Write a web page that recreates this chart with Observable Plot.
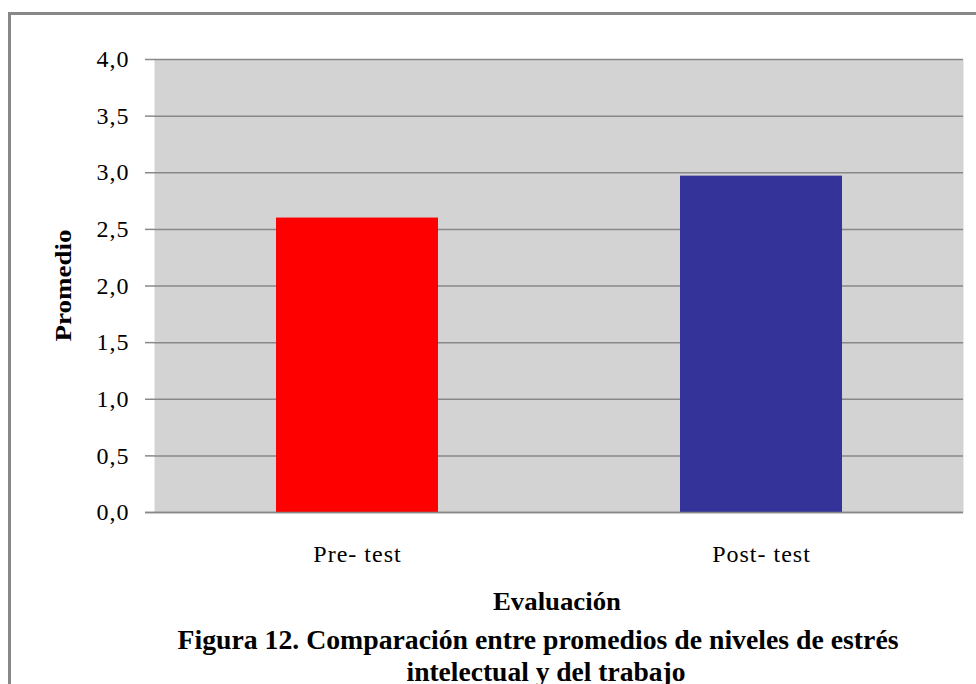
<!DOCTYPE html>
<html>
<head>
<meta charset="utf-8">
<script src="https://cdn.jsdelivr.net/npm/d3@7"></script>
<script src="https://cdn.jsdelivr.net/npm/@observablehq/plot@0.6"></script>
<style>
  html, body { margin: 0; padding: 0; background: #fff; }
  #chart { width: 976px; height: 684px; overflow: hidden; }
  #chart g[aria-label="y-axis tick label"] text,
  #chart g[aria-label="x-axis tick label"] text {
    font-family: 'Liberation Serif', 'Times New Roman', serif !important;
    font-size: 24px !important;
    letter-spacing: 1px;
    fill: #000;
  }
</style>
</head>
<body>
<div id="chart"></div>
<script>
const categories = ["Pre- test", "Post- test"];
const values = [2.6, 2.97];
const barColors = ["#ff0000", "#333399"];
const yTicks = [0, 0.5, 1, 1.5, 2, 2.5, 3, 3.5, 4];
const xTitle = "Evaluación";
const yTitle = "Promedio";
const captionLines = ["Figura 12. Comparación entre promedios de niveles de estrés", "intelectual y del trabajo"];

const data = categories.map((c, i) => ({cat: c, val: values[i], color: barColors[i]}));
const fmt = d => d.toFixed(1).replace(".", ",");

const W = 976, H = 684;
const mL = 154, mT = 59, mR = 13, mB = 172;

const plot = Plot.plot({
  width: W, height: H,
  marginLeft: mL, marginTop: mT, marginRight: mR, marginBottom: mB,
  style: {fontFamily: "'Liberation Serif', 'Times New Roman', serif", background: "transparent"},
  x: {domain: categories, paddingInner: 0.6, paddingOuter: 0.3, label: null},
  y: {domain: [0, 4], label: null},
  marks: [
    Plot.frame({fill: "#d3d3d3", stroke: null}),
    Plot.gridY(yTicks, {stroke: "#888", strokeOpacity: 1, strokeWidth: 1.5}),
    Plot.barY(data, {x: "cat", y: "val", fill: "color"}),
    Plot.ruleY([0], {stroke: "#888", strokeWidth: 1.5, insetLeft: -9}),
    Plot.ruleX([0], {frameAnchor: "left", stroke: "#888", strokeWidth: 1.5}),
    Plot.axisY(yTicks, {tickSize: 9, tickPadding: 16, stroke: "#888", strokeWidth: 1.5, tickFormat: fmt,
      fontSize: 24, fill: "#000"}),
    Plot.axisX({tickSize: 0, tickPadding: 32, fontSize: 24, fill: "#000"})
  ]
});

document.getElementById("chart").appendChild(plot);
const svg = d3.select(plot);

// outer frame
svg.insert("path", ":first-child")
  .attr("d", `M ${W + 5} 13.5 H 9.5 V ${H + 5}`)
  .attr("fill", "none").attr("stroke", "#888").attr("stroke-width", 3);

const cy = (mT + (H - mB)) / 2;

svg.append("text")
  .attr("x", 557).attr("y", 610)
  .attr("text-anchor", "middle")
  .attr("font-family", "'Liberation Serif', serif")
  .attr("font-weight", "bold").attr("font-size", 25)
  .attr("textLength", 128).attr("lengthAdjust", "spacingAndGlyphs")
  .text(xTitle);

svg.append("text")
  .attr("transform", `translate(71,${cy}) rotate(-90)`)
  .attr("text-anchor", "middle")
  .attr("font-family", "'Liberation Serif', serif")
  .attr("font-weight", "bold").attr("font-size", 24)
  .attr("textLength", 112).attr("lengthAdjust", "spacingAndGlyphs")
  .text(yTitle);

const capX = [538, 546];
const capLens = [721, 279];
captionLines.forEach((t, i) => {
  svg.append("text")
    .attr("x", capX[i]).attr("y", 649 + i * 32)
    .attr("text-anchor", "middle")
    .attr("font-family", "'Liberation Serif', serif")
    .attr("font-weight", "bold").attr("font-size", 28)
    .attr("textLength", capLens[i]).attr("lengthAdjust", "spacingAndGlyphs")
    .text(t);
});
</script>
</body>
</html>
